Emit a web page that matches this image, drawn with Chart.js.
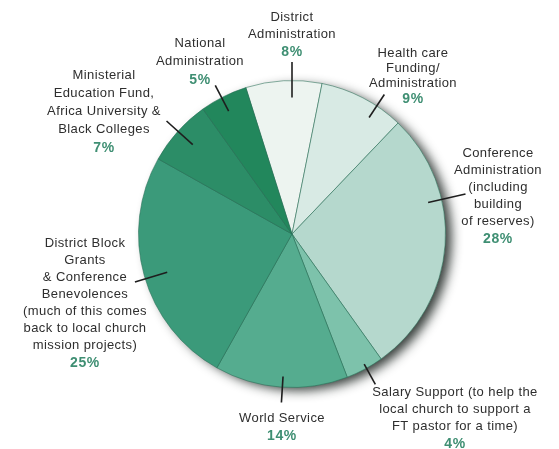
<!DOCTYPE html>
<html>
<head>
<meta charset="utf-8">
<script src="https://cdn.jsdelivr.net/npm/chart.js@4/dist/chart.umd.min.js"></script>
<style>
  html, body { margin: 0; padding: 0; background: #fff; }
  #wrap { width: 559px; height: 449px; position: relative; }
</style>
</head>
<body>
<div id="wrap"><canvas id="pie"></canvas></div>
<script>
// datos (en sentido horario desde arriba)
const categories = [
  ['District', 'Administration'],
  ['Health care', 'Funding/', 'Administration'],
  ['Conference', 'Administration', '(including', 'building', 'of reserves)'],
  ['Salary Support (to help the', 'local church to support a', 'FT pastor for a time)'],
  ['World Service'],
  ['District Block', 'Grants', '& Conference', 'Benevolences', '(much of this comes', 'back to local church', 'mission projects)'],
  ['Ministerial', 'Education Fund,', 'Africa University &', 'Black Colleges'],
  ['National', 'Administration']
];
const shares = [8, 9, 28, 4, 14, 25, 7, 5];
const sliceColors = ['#edf4f0', '#d8eae4', '#b5d8cd', '#7dc2ab', '#55ac8f', '#3b9a7a', '#2c8d67', '#22875c'];

// posición de cada rótulo: centro x, y de la primera línea, interlineado,
// y la línea guía (ángulo desde arriba en grados, radio interior/exterior relativo)
const labelLayout = [
  { x: 292, y: 17, lh: 17, ang: 0, r0: 0.89, r1: 1.12 },
  { x: 413, y: 53, lh: 15, ang: 33.5, r0: 0.91, r1: 1.09 },
  { x: 498, y: 153, lh: 17, ang: 77, r0: 0.91, r1: 1.16 },
  { x: 455, y: 392, lh: 17, ang: 151, r0: 0.97, r1: 1.12 },
  { x: 282, y: 418, lh: 17, ang: 183.6, r0: 0.93, r1: 1.1 },
  { x: 85, y: 243, lh: 17, ang: 253, r0: 0.85, r1: 1.07 },
  { x: 104, y: 75, lh: 18, ang: -48, r0: 0.87, r1: 1.1 },
  { x: 200, y: 43, lh: 18, ang: -27.3, r0: 0.9, r1: 1.09 }
];

// sombra a la derecha del pastel
const pieShadow = {
  id: 'pieShadow',
  beforeDatasetsDraw(chart) {
    const arc = chart.getDatasetMeta(0).data[0];
    if (!arc) return;
    const ctx = chart.ctx;
    ctx.save();
    ctx.shadowColor = 'rgba(20,28,25,0.85)';
    ctx.shadowBlur = 11;
    ctx.shadowOffsetX = 7;
    ctx.shadowOffsetY = 4;
    ctx.fillStyle = '#6f9486';
    ctx.beginPath();
    ctx.arc(arc.x, arc.y, arc.outerRadius - 1, 0, Math.PI * 2);
    ctx.fill();
    ctx.restore();
  }
};

// rótulos y líneas guía
const pieLabels = {
  id: 'pieLabels',
  afterDatasetsDraw(chart) {
    const arc = chart.getDatasetMeta(0).data[0];
    const ctx = chart.ctx;
    const R = arc.outerRadius;
    ctx.save();
    labelLayout.forEach((l, i) => {
      const a = l.ang * Math.PI / 180;
      ctx.strokeStyle = '#1e1e1e';
      ctx.lineWidth = 1.6;
      ctx.beginPath();
      ctx.moveTo(arc.x + Math.sin(a) * R * l.r0, arc.y - Math.cos(a) * R * l.r0);
      ctx.lineTo(arc.x + Math.sin(a) * R * l.r1, arc.y - Math.cos(a) * R * l.r1);
      ctx.stroke();

      ctx.textAlign = 'center';
      ctx.textBaseline = 'middle';
      ctx.letterSpacing = '0.4px';
      ctx.font = '13px "Liberation Sans", Arial, sans-serif';
      ctx.fillStyle = '#2e2e2e';
      const lines = categories[i];
      lines.forEach((t, k) => ctx.fillText(t, l.x, l.y + k * l.lh));
      ctx.font = 'bold 14px "Liberation Sans", Arial, sans-serif';
      ctx.letterSpacing = '0.6px';
      ctx.fillStyle = '#3f8f73';
      ctx.fillText(shares[i] + '%', l.x, l.y + lines.length * l.lh + 1);
    });
    ctx.restore();
  }
};

new Chart(document.getElementById('pie'), {
  type: 'pie',
  data: {
    labels: categories.map(c => c.join(' ')),
    datasets: [{
      data: shares,
      backgroundColor: sliceColors,
      borderColor: 'rgba(40,110,85,0.55)',
      borderWidth: 1
    }]
  },
  options: {
    responsive: true,
    maintainAspectRatio: false,
    animation: false,
    rotation: -17.5,
    layout: { padding: { left: 138, right: 113, top: 80, bottom: 61 } },
    plugins: {
      legend: { display: false },
      tooltip: { enabled: false }
    }
  },
  plugins: [pieShadow, pieLabels]
});
</script>
</body>
</html>
